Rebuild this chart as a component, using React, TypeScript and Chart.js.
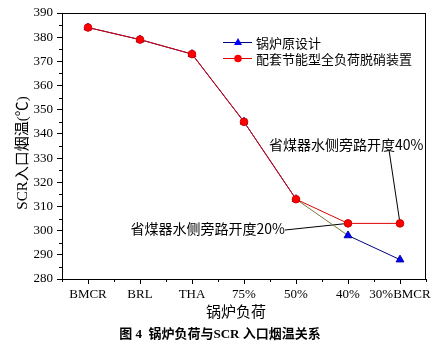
import React, { useEffect, useRef } from 'react';
import { Chart, registerables } from 'chart.js';

Chart.register(...registerables);

// ---- data ----
const categories = ['BMCR', 'BRL', 'THA', '75%', '50%', '40%', '30%BMCR'];
const originalDesign = [384, 379, 373, 345, 313, 298, 288];
const withRetrofit = [384, 379, 373, 345, 313, 303, 303];
const seriesNames = ['锅炉原设计', '配套节能型全负荷脱硝装置'];
const yMin = 280;
const yMax = 390;
const yMajorStep = 10;
const yMinorStep = 5;
const xTitle = '锅炉负荷';
const yTitle = 'SCR入口烟温(℃)';
const caption = '图 4  锅炉负荷与SCR 入口烟温关系';
const note40 = '省煤器水侧旁路开度40%';
const note20 = '省煤器水侧旁路开度20%';

const SERIF = "'Liberation Serif', 'Noto Sans CJK SC', serif";
const CJK = "'Noto Sans CJK SC', 'Liberation Serif', sans-serif";

const decorPlugin = {
  id: 'decor',
  beforeDatasetsDraw(chart: any) {
    const ctx = chart.ctx;
    const red = chart.getDatasetMeta(1).data;
    ctx.save();
    ctx.strokeStyle = '#000';
    ctx.lineWidth = 1;
    // leader lines
    const p6 = red[6];
    const p5 = red[5];
    ctx.beginPath();
    ctx.moveTo(389, 150);
    ctx.lineTo(p6.x, p6.y);
    ctx.moveTo(285, 230);
    ctx.lineTo(p5.x, p5.y);
    ctx.stroke();
    ctx.restore();
  },
  afterDraw(chart: any) {
    const ctx = chart.ctx;
    const { left, right, top, bottom } = chart.chartArea;
    const xs = chart.scales.x;
    const ys = chart.scales.y;
    ctx.save();
    ctx.strokeStyle = '#000';
    ctx.lineWidth = 1;
    // frame
    ctx.strokeRect(Math.round(left) + 0.5, Math.round(top) + 0.5, Math.round(right - left) - 1, Math.round(bottom - top));
    // minor y ticks
    ctx.beginPath();
    for (let v = yMin + yMinorStep; v < yMax; v += yMajorStep) {
      const y = Math.round(ys.getPixelForValue(v)) + 0.5;
      ctx.moveTo(left - 3, y);
      ctx.lineTo(left, y);
    }
    // minor x ticks (between categories)
    for (let i = -1; i < categories.length; i++) {
      const x = Math.round((xs.getPixelForValue(i) + xs.getPixelForValue(i + 1)) / 2) + 0.5;
      ctx.moveTo(x, bottom);
      ctx.lineTo(x, bottom + 3);
    }
    ctx.stroke();

    // legend
    const lx = 223;
    const rows = [
      { y: 42, name: seriesNames[0], line: '#000080', fill: '#0000ff', shape: 'tri' },
      { y: 58, name: seriesNames[1], line: '#e00000', fill: '#ff0000', shape: 'circ' },
    ];
    rows.forEach((r) => {
      ctx.strokeStyle = r.line;
      ctx.beginPath();
      ctx.moveTo(lx, r.y + 0.5);
      ctx.lineTo(lx + 29, r.y + 0.5);
      ctx.stroke();
      ctx.fillStyle = r.fill;
      ctx.beginPath();
      const cx = lx + 15;
      if (r.shape === 'tri') {
        ctx.moveTo(cx, r.y - 4);
        ctx.lineTo(cx + 4, r.y + 3);
        ctx.lineTo(cx - 4, r.y + 3);
        ctx.closePath();
      } else {
        ctx.arc(cx, r.y + 0.5, 3.8, 0, Math.PI * 2);
      }
      ctx.fill();
      ctx.fillStyle = '#000';
      ctx.font = `13px ${CJK}`;
      ctx.textBaseline = 'middle';
      ctx.textAlign = 'left';
      ctx.fillText(r.name, lx + 33, r.y + 1);
    });

    // annotations
    ctx.fillStyle = '#000';
    ctx.font = `14px ${CJK}`;
    ctx.textBaseline = 'middle';
    ctx.textAlign = 'left';
    ctx.fillText(note40, 269, 145);
    ctx.textAlign = 'right';
    ctx.fillText(note20, 285, 229);

    // axis titles
    ctx.textAlign = 'center';
    ctx.font = `15px ${CJK}`;
    ctx.fillText(xTitle, 236, 311);
    ctx.save();
    ctx.translate(23, 153);
    ctx.rotate(-Math.PI / 2);
    ctx.font = `15px ${SERIF}`;
    ctx.fillText(yTitle, 0, 0);
    ctx.restore();

    // caption
    ctx.font = `bold 13px ${SERIF}`;
    ctx.fillText(caption, 220, 335);
    ctx.restore();
  },
};

export default function App() {
  const ref = useRef<HTMLCanvasElement>(null);
  useEffect(() => {
    if (!ref.current) return;
    const chart = new Chart(ref.current, {
      type: 'line',
      data: {
        labels: categories,
        datasets: [
          {
            label: seriesNames[0],
            data: originalDesign,
            borderColor: '#000080',
            backgroundColor: '#0000ff',
            pointBackgroundColor: '#0000ff',
            pointBorderColor: '#0000aa',
            pointStyle: 'triangle',
            pointRadius: 4.5,
            pointBorderWidth: 1,
            borderWidth: 1,
            order: 1,
            segment: {
              borderColor: (c: any) => (c.p0DataIndex === 4 ? '#7a7a30' : '#000080'),
            },
          },
          {
            label: seriesNames[1],
            data: withRetrofit,
            borderColor: '#e00000',
            backgroundColor: '#ff0000',
            pointBackgroundColor: '#ff0000',
            pointBorderColor: '#d00000',
            pointStyle: 'circle',
            pointRadius: 3.8,
            pointBorderWidth: 1,
            borderWidth: 1,
            order: 0,
          },
        ],
      },
      options: {
        animation: false,
        responsive: false,
        maintainAspectRatio: false,
        layout: { padding: { left: 0, top: 13, right: 16, bottom: 0 } },
        plugins: { legend: { display: false }, tooltip: { enabled: false }, title: { display: false } },
        scales: {
          x: {
            type: 'category',
            offset: true,
            grid: { display: true, drawOnChartArea: false, drawTicks: true, tickLength: 5, offset: false, color: '#000' },
            border: { display: true, color: '#000', width: 1 },
            ticks: {
              color: '#000',
              font: { family: SERIF, size: 13 },
              maxRotation: 0,
              minRotation: 0,
              autoSkip: false,
              padding: 3,
            },
            afterFit: (s: any) => {
              s.height = 72;
            },
          },
          y: {
            type: 'linear',
            min: yMin,
            max: yMax,
            grid: { display: true, drawOnChartArea: false, drawTicks: true, tickLength: 5, color: '#000' },
            border: { display: true, color: '#000', width: 1 },
            ticks: {
              stepSize: yMajorStep,
              color: '#000',
              font: { family: SERIF, size: 13 },
              padding: 4,
            },
            afterFit: (s: any) => {
              s.width = 62;
            },
          },
        },
      },
      plugins: [decorPlugin],
    });
    return () => chart.destroy();
  }, []);
  return (
    <div style={{ position: 'fixed', left: 0, top: 0, width: 442, height: 351, background: '#fff' }}>
      <canvas ref={ref} width={442} height={351} style={{ width: 442, height: 351, display: 'block' }} />
    </div>
  );
}
